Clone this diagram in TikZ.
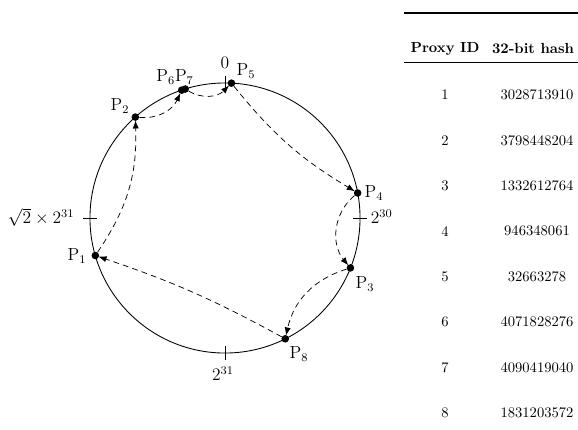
\documentclass[tikz,border=0pt]{standalone}
\usetikzlibrary{arrows.meta,calc}
\begin{document}
\begin{tikzpicture}[x=0.685pt,y=0.685pt,
  dot/.style={circle,fill=black,inner sep=0pt,minimum size=5.2pt},
  link/.style={dash pattern=on 4pt off 2.8pt,line width=0.5pt,-{Latex[length=5.5pt,width=4.2pt]},shorten >=-0.5pt},
  lbl/.style={inner sep=1pt,font=\large},
  tick/.style={line width=0.5pt},
  rule/.style={line width=0.8pt},
  cell/.style={inner sep=0pt,anchor=center}]
\useasboundingbox (0,0) rectangle (578,429);
\coordinate (c) at (225,211);
\draw[line width=0.6pt] (c) circle[radius=92.5pt];
% ticks
\draw[tick] ($(c)+(0,128)$) -- ($(c)+(0,142)$);
\draw[tick] ($(c)+(128,0)$) -- ($(c)+(142,0)$);
\draw[tick] ($(c)+(0,-128)$) -- ($(c)+(0,-142)$);
\draw[tick] ($(c)+(-128,0)$) -- ($(c)+(-142,0)$);
% tick labels
\node[lbl] (t0) at (225,366) {$0$};
\node[lbl,anchor=west] (t30) at (369,212) {$2^{30}$};
\node[lbl] (t31) at (223,55) {$2^{31}$};
\node[lbl,anchor=east] (t32) at (76,212) {$\sqrt{2}\times2^{31}$};
% proxies
\node[dot] (p1) at ($(c)+(196.14:135)$) {};
\node[dot] (p2) at ($(c)+(131.62:135)$) {};
\node[dot] (p3) at ($(c)+(338.30:135)$) {};
\node[dot] (p4) at ($(c)+(10.68:135)$) {};
\node[dot] (p5) at ($(c)+(87.26:135)$) {};
\node[dot] (p6) at ($(c)+(108.70:135)$) {};
\node[dot] (p7) at ($(c)+(107.14:135)$) {};
\node[dot] (p8) at ($(c)+(296.51:135)$) {};
% proxy labels
\node[lbl] (l1) at (77,173) {$\mathrm{P}_1$};
\node[lbl] (l2) at (120,323) {$\mathrm{P}_2$};
\node[lbl] (l3) at (365,145) {$\mathrm{P}_3$};
\node[lbl] (l4) at (374,236) {$\mathrm{P}_4$};
\node[lbl] (l5) at (246,358) {$\mathrm{P}_5$};
\node[lbl] (l67) at (175,352) {$\mathrm{P}_6\mathrm{P}_7$};
\node[lbl] (l8) at (299,75) {$\mathrm{P}_8$};
% links
\draw[link] (p5) to[bend right=10] (p4);
\draw[link] (p4) to[bend right=45] (p3);
\draw[link] (p3) to[bend right=30] (p8);
\draw[link] (p8) to[bend right=5] (p1);
\draw[link] (p1) to[bend right=18] (p2);
\draw[link] (p2) to[bend right=35] (p6);
\draw[link] (p7) to[bend right=38] (p5);
% table
\draw[rule] (404,416) -- (578,416);
\draw[line width=0.5pt] (404,367) -- (578,367);
\node[cell] (hid) at (445,380) {\textbf{Proxy ID}};
\node[cell] (hh) at (533,380) {\textbf{32-bit hash}};
\foreach \i/\h in {1/3028713910,2/3798448204,3/1332612764,4/946348061,5/32663278,6/4071828276,7/4090419040,8/1831203572}{
  \node[cell] (id\i) at (445,{334-45.4*(\i-1)}) {\i};
  \node[cell] (hv\i) at (537,{334-45.4*(\i-1)}) {\h};
}
\end{tikzpicture}
\end{document}
